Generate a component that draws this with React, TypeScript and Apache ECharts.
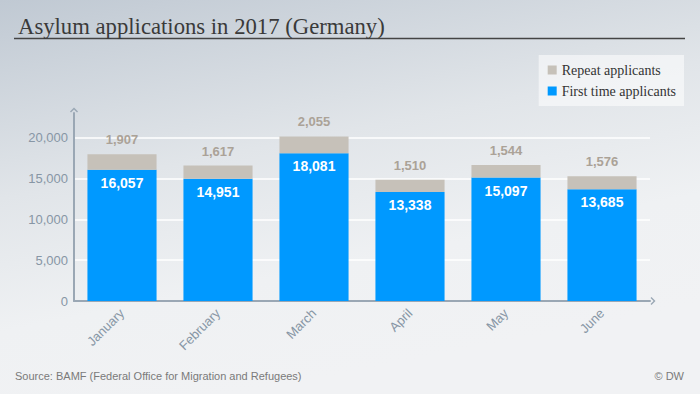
import React, { useEffect, useRef } from "react";
import * as echarts from "echarts";

const months = ["January", "February", "March", "April", "May", "June"];
const firstTime = [16057, 14951, 18081, 13338, 15097, 13685];
const repeat = [1907, 1617, 2055, 1510, 1544, 1576];
const yTicks = [0, 5000, 10000, 15000, 20000];

const fmt = (v: number) => v.toLocaleString("en-US");
const chevron = "path://M5,0 L10,5 L8.8,6.2 L5,2.4 L1.2,6.2 L0,5 Z";
const serif = "Liberation Serif";
const sans = "Liberation Sans";

export default function App() {
  const ref = useRef<HTMLDivElement>(null);
  useEffect(() => {
    if (!ref.current) return;
    const chart = echarts.init(ref.current, undefined, { renderer: "svg" });
    const axisColor = "#9aa7b4";
    const labelColor = "#8796a5";
    chart.setOption({
      animation: false,
      backgroundColor: {
        type: "linear",
        x: 0,
        y: 0,
        x2: 0.35,
        y2: 1,
        colorStops: [
          { offset: 0, color: "#c0c9d3" },
          { offset: 0.45, color: "#e1e5e9" },
          { offset: 0.75, color: "#eff1f3" },
          { offset: 1, color: "#f1f2f4" },
        ],
      },
      title: {
        text: "Asylum applications in 2017 (Germany)",
        left: 13,
        top: 10,
        textStyle: {
          fontFamily: serif,
          fontWeight: "normal",
          fontSize: 22.7,
          color: "#3a3a3a",
        },
      },
      legend: {
        data: ["Repeat applicants", "First time applicants"],
        orient: "vertical",
        right: 16,
        top: 55,
        itemWidth: 9,
        itemHeight: 9,
        itemGap: 7,
        icon: "rect",
        padding: [8, 8, 8, 9],
        backgroundColor: "rgba(255,255,255,0.55)",
        textStyle: {
          fontFamily: serif,
          fontSize: 14,
          color: "#333333",
        },
      },
      grid: { left: 74, right: 50, top: 113, bottom: 93, containLabel: false },
      xAxis: {
        type: "category",
        data: months,
        axisLine: {
          show: true,
          lineStyle: { color: axisColor, width: 2 },
          symbol: ["none", chevron],
          symbolSize: [8, 6],
          symbolOffset: [0, 3],
        },
        axisTick: { show: false },
        axisLabel: {
          rotate: 45,
          margin: 10,
          color: labelColor,
          fontFamily: sans,
          fontSize: 13,
        },
      },
      yAxis: {
        type: "value",
        min: 0,
        max: 23000,
        interval: 5000,
        axisLine: {
          show: true,
          lineStyle: { color: axisColor, width: 2 },
          symbol: ["none", chevron],
          symbolSize: [8, 6],
          symbolOffset: [0, 3],
        },
        axisTick: { show: false },
        axisLabel: {
          showMaxLabel: false,
          margin: 6,
          color: labelColor,
          fontFamily: sans,
          fontSize: 13,
          formatter: (v: number) => (yTicks.includes(v) ? fmt(v) : ""),
        },
        splitLine: {
          show: true,
          showMinLine: false,
          showMaxLine: false,
          lineStyle: { color: "#ffffff", width: 1.5 },
        },
      },
      series: [
        {
          name: "First time applicants",
          type: "bar",
          stack: "total",
          data: firstTime,
          barWidth: "72%",
          itemStyle: { color: "#0099ff" },
          label: {
            show: true,
            position: "insideTop",
            distance: 6,
            color: "#ffffff",
            fontWeight: "bold",
            fontFamily: sans,
            fontSize: 14,
            formatter: (p: any) => fmt(p.value),
          },
        },
        {
          name: "Repeat applicants",
          type: "bar",
          stack: "total",
          data: repeat,
          barWidth: "72%",
          itemStyle: { color: "#c6c1b9" },
          label: {
            show: true,
            position: "top",
            distance: 8,
            color: "#aba297",
            fontWeight: "bold",
            fontFamily: sans,
            fontSize: 13,
            formatter: (p: any) => fmt(p.value),
          },
        },
      ],
      graphic: [
        {
          type: "line",
          shape: { x1: 14, y1: 38.5, x2: 685, y2: 38.5 },
          style: { stroke: "#444444", lineWidth: 1.5 },
        },
        {
          type: "text",
          left: 15,
          top: 370,
          style: {
            text: "Source: BAMF (Federal Office for Migration and Refugees)",
            fill: "#7a7a7a",
            font: "11px " + sans,
          },
        },
        {
          type: "text",
          right: 16,
          top: 370,
          style: {
            text: "© DW",
            fill: "#7a7a7a",
            font: "11px " + sans,
          },
        },
      ],
    });
    return () => chart.dispose();
  }, []);
  return (
    <div
      ref={ref}
      style={{ position: "fixed", left: 0, top: 0, width: 700, height: 394 }}
    />
  );
}
